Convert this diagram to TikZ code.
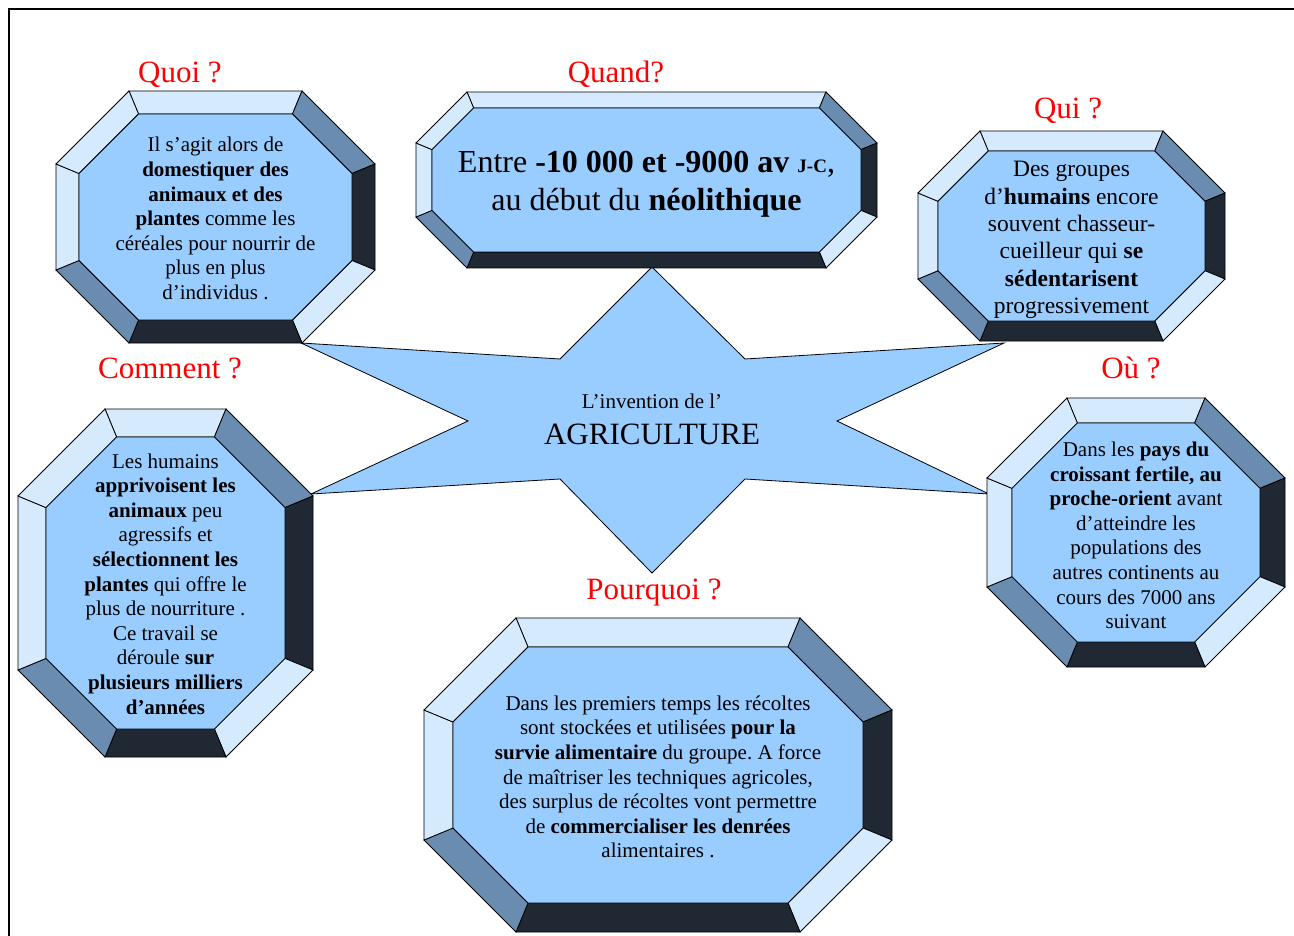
\documentclass[tikz,border=0pt]{standalone}
\usepackage{fontspec}
\setmainfont{Liberation Serif}
\usepackage{xcolor}
\frenchspacing

\definecolor{facelight}{HTML}{D6EAFE}
\definecolor{facemid}{HTML}{6A8CB0}
\definecolor{facedark}{HTML}{1F2833}
\definecolor{boxfill}{HTML}{99CCFF}

\tikzset{
  edgeline/.style={draw=black, line width=0.8pt, line join=miter},
  question/.style={text=red, anchor=base, inner sep=0pt, font=\fontsize{31}{34}\selectfont},
  boxtext/.style={align=center, inner sep=0pt, font=\fontsize{21}{24.6}\selectfont},
}

% bevelled octagon: name, x0, y0, x1, y1, chamfer, bevel
\newcommand{\bevelbox}[7]{%
  \pgfmathsetmacro{\bvin}{#6-0.586*#7}
  \coordinate (#1-o1) at ({#2+#6},{#3});
  \coordinate (#1-o2) at ({#4-#6},{#3});
  \coordinate (#1-o3) at ({#4},{#3+#6});
  \coordinate (#1-o4) at ({#4},{#5-#6});
  \coordinate (#1-o5) at ({#4-#6},{#5});
  \coordinate (#1-o6) at ({#2+#6},{#5});
  \coordinate (#1-o7) at ({#2},{#5-#6});
  \coordinate (#1-o8) at ({#2},{#3+#6});
  \coordinate (#1-i1) at ({#2+#7+\bvin},{#3+#7});
  \coordinate (#1-i2) at ({#4-#7-\bvin},{#3+#7});
  \coordinate (#1-i3) at ({#4-#7},{#3+#7+\bvin});
  \coordinate (#1-i4) at ({#4-#7},{#5-#7-\bvin});
  \coordinate (#1-i5) at ({#4-#7-\bvin},{#5-#7});
  \coordinate (#1-i6) at ({#2+#7+\bvin},{#5-#7});
  \coordinate (#1-i7) at ({#2+#7},{#5-#7-\bvin});
  \coordinate (#1-i8) at ({#2+#7},{#3+#7+\bvin});
  \foreach \p/\q/\tone in {1/2/facelight, 2/3/facemid, 3/4/facedark, 4/5/facelight,
                            5/6/facedark, 6/7/facemid, 7/8/facelight, 8/1/facelight}
    \filldraw[edgeline, fill=\tone] (#1-o\p) -- (#1-o\q) -- (#1-i\q) -- (#1-i\p) -- cycle;
  \filldraw[edgeline, fill=boxfill] (#1-i1) -- (#1-i2) -- (#1-i3) -- (#1-i4)
    -- (#1-i5) -- (#1-i6) -- (#1-i7) -- (#1-i8) -- cycle;
  \coordinate (#1) at ({(#2+#4)/2},{(#3+#5)/2});
}

\begin{document}
\begin{tikzpicture}[x=1pt, y=-1pt]
  \useasboundingbox (0,0) rectangle (1294,936);
  \fill[white] (0,0) rectangle (1294,936);
  \draw[line width=1.5pt] (9,936) -- (9,9) -- (1294,9);

  % central star
  \filldraw[edgeline, fill=boxfill] (652,267) -- (745,359) -- (1004,343) -- (837,421)
    -- (989,494) -- (745,479) -- (652,573) -- (560,479) -- (311,494) -- (468,421)
    -- (301,343) -- (560,359) -- cycle;
  \node[inner sep=0pt, font=\fontsize{21}{24}\selectfont, anchor=base] (startop) at (652,408) {L’invention de l’};
  \node[inner sep=0pt, font=\fontsize{31}{34}\selectfont, anchor=base] (starmain) at (652,444) {AGRICULTURE};

  % boxes
  \bevelbox{quoi}{56}{91}{375}{343}{73}{23}
  \bevelbox{quand}{416}{92}{877}{268}{51}{16}
  \bevelbox{qui}{918}{131}{1225}{341}{62}{20}
  \bevelbox{comment}{18}{409}{313}{757}{87}{28}
  \bevelbox{ou}{987}{398}{1285}{667}{80}{25}
  \bevelbox{pourquoi}{424}{618}{892}{932}{92}{29}

  \node[boxtext] (quoitext) at ([yshift=-1.5]quoi) {Il s’agit alors de\\ \textbf{domestiquer des}\\
    \textbf{animaux et des}\\ \textbf{plantes} comme les\\ céréales pour nourrir de\\
    plus en plus\\ d’individus .};
  \node[boxtext, font=\fontsize{32}{38}\selectfont] (quandtext) at ([yshift=-4.5]quand)
    {Entre \textbf{-10 000 et -9000 av {\fontsize{19}{20}\selectfont J-C}},\\
     au début du \textbf{néolithique}};
  \node[boxtext, font=\fontsize{23.5}{27.4}\selectfont] (quitext) at ([yshift=-4]qui)
    {Des groupes\\ d’\textbf{humains} encore\\ souvent chasseur-\\ cueilleur qui \textbf{se}\\
     \textbf{sédentarisent}\\ progressivement};
  \node[boxtext] (commenttext) at ([yshift=-1]comment) {Les humains\\ \textbf{apprivoisent les}\\
    \textbf{animaux} peu\\ agressifs et\\ \textbf{sélectionnent les}\\ \textbf{plantes} qui offre le\\
    plus de nourriture .\\ Ce travail se\\ déroule \textbf{sur}\\ \textbf{plusieurs milliers}\\
    \textbf{d’années}};
  \node[boxtext] (outext) at ([yshift=-3]ou) {Dans les \textbf{pays du}\\
    \textbf{croissant fertile, au}\\ \textbf{proche-orient} avant\\ d’atteindre les\\
    populations des\\ autres continents au\\ cours des 7000 ans\\ suivant};
  \node[boxtext] (pourquoitext) at ([yshift=-2]pourquoi) {Dans les premiers temps les récoltes\\
    sont stockées et utilisées \textbf{pour la}\\ \textbf{survie alimentaire} du groupe. A force\\
    de maîtriser les techniques agricoles,\\ des surplus de récoltes vont permettre\\
    de \textbf{commercialiser les denrées}\\ alimentaires .};

  % questions
  \node[question] (quoilabel) at (180,83) {Quoi ?};
  \node[question] (quandlabel) at (616,83) {Quand?};
  \node[question] (quilabel) at (1068,119) {Qui ?};
  \node[question] (commentlabel) at (170,378) {Comment ?};
  \node[question] (oulabel) at (1131,378) {Où ?};
  \node[question] (pourquoilabel) at (654,599) {Pourquoi ?};
\end{tikzpicture}
\end{document}
